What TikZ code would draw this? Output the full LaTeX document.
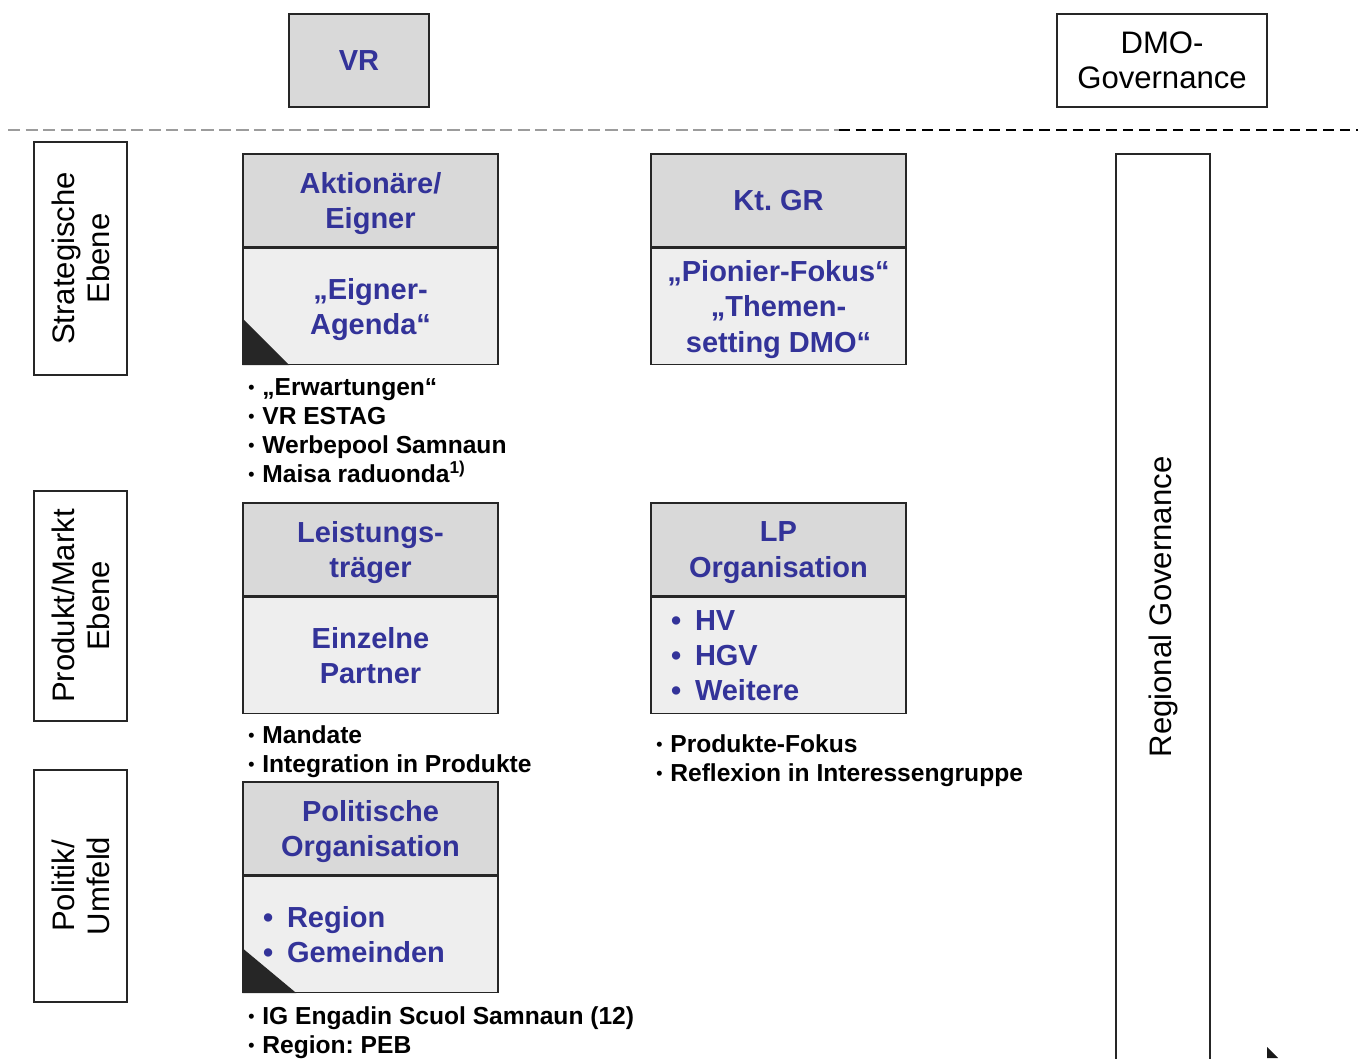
\documentclass[tikz,border=0pt]{standalone}
\usepackage{fontspec}
\setmainfont{Liberation Sans}
\usetikzlibrary{calc}
\definecolor{hgray}{HTML}{D9D9D9}
\definecolor{bgray}{HTML}{EEEEEE}
\definecolor{tblue}{HTML}{333399}
\definecolor{dgray}{HTML}{9C9C9C}
\newcommand{\nbul}{\makebox[0.28cm][l]{\raisebox{0.8pt}{\fontsize{10}{10}\selectfont•}}}
\newcommand{\bbul}{\makebox[0.48cm][l]{•}}
\frenchspacing

\begin{document}
\begin{tikzpicture}[x=0.02cm, y=-0.02cm,
    HDR/.style={draw=black!85, fill=hgray, thick, minimum width=5.1cm, minimum height=1.86cm, inner sep=0pt, text depth=0pt, align=center, text=tblue, font=\fontsize{16.5}{20}\selectfont\bfseries},
    BDY/.style={HDR, fill=bgray, minimum height=2.32cm, anchor=north},
    BDL/.style={BDY, text depth=, align=left, text width=4.3cm, inner xsep=0.4cm},
    SID/.style={draw=black!85, thick, rotate=90, minimum height=1.86cm, inner sep=0pt, align=center, font=\fontsize{17.7}{20}\selectfont},
    NTE/.style={anchor=north west, align=left, inner sep=0pt, font=\fontsize{14}{16.5}\selectfont\bfseries}
    ]
        \useasboundingbox (0,0) rectangle (1358,1058);
        \node[HDR, minimum width=2.8cm] (vr) at (359,60.5) {VR};
        \node[HDR, fill=none, minimum width=4.2cm, text=black, font=\fontsize{17.7}{20}\selectfont] (dmo) at (1162,60.5) {DMO-\\Governance};
        \coordinate (d0) at (8,130);
        \coordinate (d1) at (839,130);
        \coordinate (d2) at (1358,130);
        \draw[dgray, line width=1.1pt, dash pattern=on 7pt off 3pt] (d0) -- (d1);
        \draw[black, thick, dash pattern=on 6pt off 3.5pt] (d1) -- (d2);

        \node[SID, minimum width=4.66cm] (se) at (80.5,258.5) {Strategische\\Ebene};
        \node[SID, minimum width=4.6cm] (pm) at (80.5,606) {Produkt/Markt\\Ebene};
        \node[SID, minimum width=4.64cm] (pu) at (80.5,886) {Politik/\\Umfeld};

        \node[HDR] (akt) at (370.5,200.5) {Aktionäre/\\Eigner};
        \node[BDY] (aktB) at (akt.south) {„Eigner-\\Agenda“};
        \fill[black!85] (aktB.south west) -- ++(0,-47) -- ++(47,47) -- cycle;
        \node[NTE] (n1) at (248,378) {\nbul„Erwartungen“\\\nbul VR ESTAG\\\nbul Werbepool Samnaun\\\nbul Maisa raduonda\textsuperscript{1)}};

        \node[HDR] (kt) at (778.5,200.5) {Kt. GR};
        \node[BDY] (ktB) at (kt.south) {„Pionier-Fokus“\\„Themen-\\setting DMO“};

        \node[HDR] (lt) at (370.5,549.5) {Leistungs-\\träger};
        \node[BDY] (ltB) at (lt.south) {Einzelne\\Partner};
        \node[NTE] (n2) at (248,725) {\nbul Mandate\\\nbul Integration in Produkte};

        \node[HDR] (lp) at (778.5,549.5) {LP\\Organisation};
        \node[BDL] (lpB) at (lp.south) {\bbul HV\\\bbul HGV\\\bbul Weitere};
        \node[NTE] (n3) at (656,734) {\nbul Produkte-Fokus\\\nbul Reflexion in Interessengruppe};

        \node[HDR] (pol) at (370.5,828.5) {Politische\\Organisation};
        \node[BDL] (polB) at (pol.south) {\bbul Region\\\bbul Gemeinden};
        \fill[black!85] (polB.south west) -- ++(0,-45) -- ++(54,45) -- cycle;
        \node[NTE] (n4) at (248,1006) {\nbul IG Engadin Scuol Samnaun (12)\\\nbul Region: PEB};

        \node[rotate=90, font=\fontsize{17.7}{20}\selectfont] (rg) at (1163,607) {Regional Governance};
        \draw[black!85, thick] (1116,1060) |- (1210,154) -- (1210,1060);
        \fill[black!90] (1267,1047) -- (1267,1058) -- (1278,1058) -- cycle;
    \end{tikzpicture}
\end{document}
